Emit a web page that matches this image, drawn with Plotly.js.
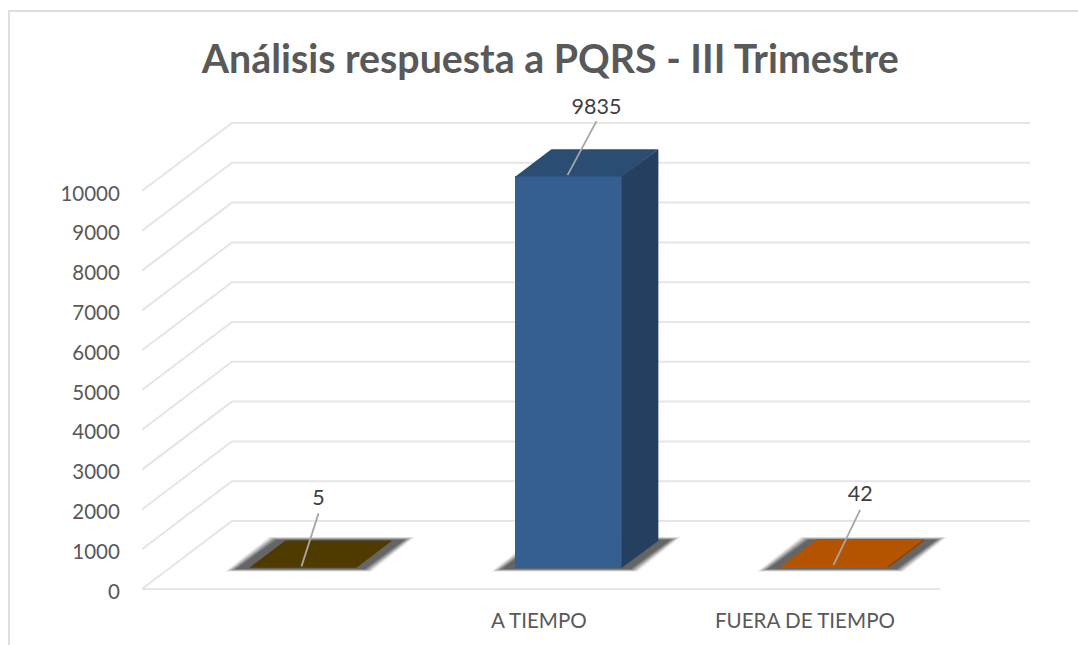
<!DOCTYPE html>
<html><head><meta charset="utf-8">
<script src="https://cdn.plot.ly/plotly-3.0.1.min.js"></script>
<style>html,body{margin:0;padding:0;background:#fff;overflow:hidden}#c{width:1078px;height:645px}</style>
</head><body><div id="c"></div>
<script>
const chartTitle = "Análisis respuesta a PQRS - III Trimestre";
const categories = ["", "A TIEMPO", "FUERA DE TIEMPO"];
const values = [5, 9835, 42];
const frontColors = ["#4f3a00", "#365f91", "#b85600"];
const topColors = ["#4f3a00", "#2b4c73", "#b45400"];
const sideColors = ["#3d2c00", "#243f60", "#8f4400"];
const yTicks = [0,1000,2000,3000,4000,5000,6000,7000,8000,9000,10000];
const leaderDx = [0.064, 0.109, 0.100];
const leaderDy = [1332, 1357, 1380];
const labelLift = [75, 50, 100];

// oblique projection of the 3D box onto the 2D axes
const DX = 0.338, DY = 1708, BAR_W = 0.402, D_FRONT = 0.31, D_BACK = 0.71, X0 = -0.5, X_END = 2.5;
const PPU = 0.0398;
const px = (x, d) => x + d * DX;
const py = (v, d) => v + d * DY;
function pathOf(pts){ return "M" + pts.map(p => p[0] + " " + p[1]).join("L") + "Z"; }

const shapes = [];
const GRID = "#e5e5e5";
yTicks.forEach(v => {
  shapes.push({type:"path", layer:"below", xref:"x", yref:"y",
    path:`M${px(X0,0)} ${py(v,0)}L${px(X0,1)} ${py(v,1)}L${px(X_END,1)} ${py(v,1)}` + (v===0?`M${px(X0,0)} ${py(0,0)}L${px(X_END,0)} ${py(0,0)}`:""),
    line:{color:GRID,width:2}});
});
// soft shadows under each bar: [spread, vertical spread, opacity]
const blur = [[1.14,95,0.05],[1.08,88,0.07],[1.02,80,0.09],[0.96,72,0.11],[0.9,64,0.13],[0.84,56,0.15],[0.78,48,0.17],[0.72,40,0.19],[0.66,32,0.21],[0.6,24,0.23]];
categories.forEach((c,i) => {
  const l = i - BAR_W/2, r = i + BAR_W/2;
  blur.forEach(b => {
    shapes.push({type:"path", layer:"below", xref:"x", yref:"y", line:{width:0},
      fillcolor:`rgba(60,60,60,${b[2]})`,
      path: pathOf([
        [px(l-0.082*b[0],D_FRONT), py(-b[1],D_FRONT)],
        [px(r+0.05*b[0],D_FRONT), py(-b[1],D_FRONT)],
        [px(r+0.075*b[0],D_BACK), py(b[1],D_BACK)],
        [px(l-0.055*b[0],D_BACK), py(b[1],D_BACK)]
      ])});
  });
});
// frame of the chart area: only its left and top edges are inside the picture
const frameY = (645-52-11)/503, frameX = (9-142)/888;
shapes.push({type:"path", xref:"paper", yref:"paper", layer:"below",
  path:`M${frameX} -0.2L${frameX} ${frameY}L1.06 ${frameY}`,
  line:{color:"#dfdfdf",width:2}});

const traces = [];
traces.push({type:"bar", x:categories.map((c,i)=>px(i,D_FRONT)), y:values,
  base:values.map(()=>py(0,D_FRONT)), width:BAR_W,
  marker:{color:frontColors, line:{width:0}}, hoverinfo:"skip", showlegend:false});
categories.forEach((c,i) => {
  const l = i - BAR_W/2, r = i + BAR_W/2, v = values[i];
  const top = [[l,D_FRONT],[r,D_FRONT],[r,D_BACK],[l,D_BACK],[l,D_FRONT]];
  traces.push({type:"scatter", mode:"lines", x:top.map(p=>px(p[0],p[1])), y:top.map(p=>py(v,p[1])),
    fill:"toself", fillcolor:topColors[i], line:{width:0,color:topColors[i]}, hoverinfo:"skip", showlegend:false});
  const seam = 0.003;
  const sx = [r-seam,r,r,r-seam,r-seam], sd = [D_FRONT,D_BACK,D_BACK,D_FRONT,D_FRONT], sv = [0,0,v,v,0];
  traces.push({type:"scatter", mode:"lines", x:sx.map((x,k)=>px(x,sd[k])), y:sv.map((y,k)=>py(y,sd[k])),
    fill:"toself", fillcolor:sideColors[i], line:{width:0,color:sideColors[i]}, hoverinfo:"skip", showlegend:false});
});
// leader lines and the data labels at their ends
categories.forEach((c,i) => {
  const sx = px(i-0.012,D_FRONT+0.02), sy = py(values[i],D_FRONT+0.02);
  traces.push({type:"scatter", mode:"lines",
    x:[sx, sx+leaderDx[i]], y:[sy, sy+leaderDy[i]],
    line:{color:"#a6a6a6",width:1.8}, hoverinfo:"skip", showlegend:false});
  traces.push({type:"scatter", mode:"text",
    x:[sx+leaderDx[i]], y:[sy+leaderDy[i]+labelLift[i]],
    text:[String(values[i])], textposition:"top center",
    textfont:{family:"Lato, sans-serif", size:21.5, color:"#404040"},
    hoverinfo:"skip", showlegend:false});
});

const layout = {
  width:1078, height:645, autosize:false,
  paper_bgcolor:"#ffffff", plot_bgcolor:"rgba(0,0,0,0)",
  margin:{l:142, r:48, t:90, b:52, pad:0},
  title:{text:chartTitle, x:0.5105, xanchor:"center", y:0.908, yanchor:"middle",
    font:{family:"Lato, sans-serif", size:39.3, color:"#595959", weight:700}},
  showlegend:false, bargap:0,
  xaxis:{type:"linear", range:[-0.5, 2.838], tickmode:"array",
    tickvals:categories.map((c,i)=>i-0.008), ticktext:categories,
    showgrid:false, zeroline:false, showline:false, ticks:"outside", ticklen:9, tickcolor:"rgba(0,0,0,0)",
    tickfont:{family:"Lato, sans-serif", size:20.6, color:"#595959"}},
  yaxis:{type:"linear", range:[-4/PPU, 499/PPU], tickmode:"array", tickvals:yTicks.map(v=>v-60), ticktext:yTicks.map(String),
    showgrid:false, zeroline:false, showline:false, ticks:"outside", ticklen:17, tickcolor:"rgba(0,0,0,0)",
    tickfont:{family:"Lato, sans-serif", size:20.5, color:"#595959"}},
  shapes
};
Plotly.newPlot("c", traces, layout, {displayModeBar:false, staticPlot:true});
</script></body></html>
